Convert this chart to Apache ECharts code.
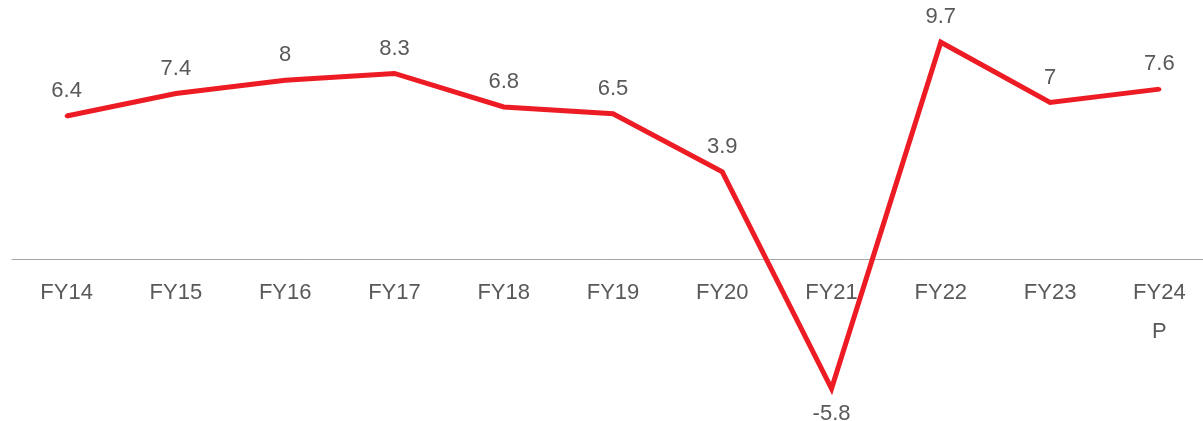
<!DOCTYPE html>
<html>
<head>
    <meta charset="utf-8">
    <title>GDP growth</title>
    <script src="https://cdn.jsdelivr.net/npm/echarts@6/dist/echarts.min.js"></script>
    <style>
        html, body { margin: 0; padding: 0; background: #fff; }
        #chart { width: 1203px; height: 421px; }
    </style>
</head>
<body>
<div id="chart"></div>
<script>
    var years = ['FY14', 'FY15', 'FY16', 'FY17', 'FY18', 'FY19', 'FY20', 'FY21', 'FY22', 'FY23', 'FY24\nP'];
    var growth = [6.4, 7.4, 8, 8.3, 6.8, 6.5, 3.9, -5.8, 9.7, 7, 7.6];

    var textGrey = '#595959';
    var fontName = '"Liberation Sans", Arial, sans-serif';

    var points = growth.map(function (v) {
        return {
            value: v,
            label: { show: true, position: v < 0 ? 'bottom' : 'top' }
        };
    });

    // grid: 0 sits at y=259, bottom of grid (-6) at y=393
    var option = {
        backgroundColor: '#fff',
        animation: false,
        grid: { left: 12, right: -11, top: 35.5, bottom: 28, outerBoundsMode: 'none', containLabel: false },
        xAxis: {
            type: 'category',
            data: years,
            boundaryGap: true,
            position: 'bottom',
            offset: -134,
            axisLine: { onZero: false, lineStyle: { color: '#a6a6a6', width: 1 } },
            axisTick: { show: false },
            axisLabel: {
                color: textGrey,
                fontSize: 22,
                fontFamily: fontName,
                margin: 14,
                lineHeight: 39
            },
            splitLine: { show: false }
        },
        yAxis: {
            type: 'value',
            min: -6,
            max: 10,
            show: false
        },
        series: [{
            type: 'line',
            data: points,
            symbol: 'circle',
            symbolSize: 4,
            showSymbol: true,
            lineStyle: { color: '#ed1c24', width: 5, join: 'miter' },
            itemStyle: { color: '#ed1c24' },
            label: {
                show: true,
                color: textGrey,
                fontSize: 22,
                fontFamily: fontName,
                distance: 12
            }
        }]
    };

    var chart = echarts.init(document.getElementById('chart'));
    chart.setOption(option);
</script>
</body>
</html>
